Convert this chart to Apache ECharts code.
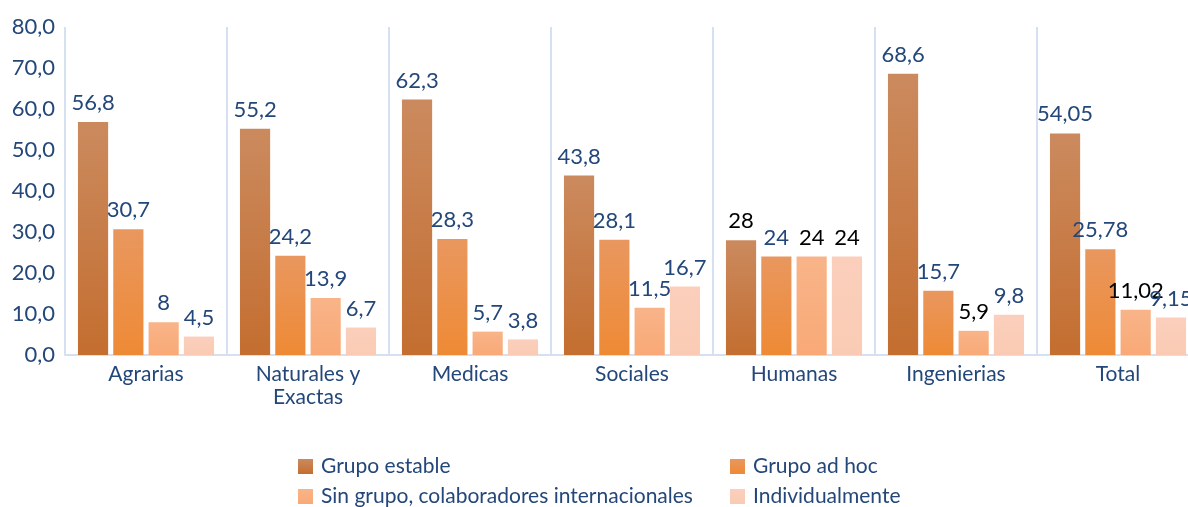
<!DOCTYPE html>
<html>
<head>
<meta charset="utf-8">
<script src="https://cdn.jsdelivr.net/npm/echarts@6/dist/echarts.min.js"></script>
<style>
  html, body { margin: 0; padding: 0; background: #fff; }
  #chart { width: 1188px; height: 507px; }
</style>
</head>
<body>
<div id="chart"></div>
<script>
// datos del gráfico
var categories = ['Agrarias', 'Naturales y\nExactas', 'Medicas', 'Sociales', 'Humanas', 'Ingenierias', 'Total'];
var grupoEstable = [56.8, 55.2, 62.3, 43.8, 28, 68.6, 54.05];
var grupoAdHoc = [30.7, 24.2, 28.3, 28.1, 24, 15.7, 25.78];
var sinGrupo = [8, 13.9, 5.7, 11.5, 24, 5.9, 11.02];
var individualmente = [4.5, 6.7, 3.8, 16.7, 24, 9.8, 9.15];
var yTicks = [0, 10, 20, 30, 40, 50, 60, 70, 80];

var blue = '#24477A';
var font = 'Lato, "Open Sans", sans-serif';

// etiquetas en negro (serie, categoría) como en el original
var blackLabels = { '0-4': 1, '2-4': 1, '3-4': 1, '2-5': 1, '2-6': 1 };

function grad(top, bottom) {
  return new echarts.graphic.LinearGradient(0, 0, 0, 1, [
    { offset: 0, color: top },
    { offset: 1, color: bottom }
  ]);
}

var seriesDefs = [
  { name: 'Grupo estable', data: grupoEstable, color: grad('#CB8A5E', '#C46E30'), legend: '#C47A45' },
  { name: 'Grupo ad hoc', data: grupoAdHoc, color: grad('#E9975F', '#EE8A35'), legend: '#EC8D42' },
  { name: 'Sin grupo, colaboradores internacionales', data: sinGrupo, color: grad('#F8B489', '#F9A976'), legend: '#F8AE7F' },
  { name: 'Individualmente', data: individualmente, color: grad('#FBCFBC', '#FACBB4'), legend: '#FACDB8' }
];

// posición de cada entrada de la leyenda (2 columnas x 2 filas)
var legendPos = [[298, 456], [730, 456], [298, 486], [730, 486]];

var chart = echarts.init(document.getElementById('chart'));

var series = seriesDefs.map(function (s, si) {
  return {
    name: s.name,
    type: 'bar',
    color: s.legend,
    barGap: '17%',
    barCategoryGap: '16%',
    itemStyle: { color: s.color },
    data: s.data.map(function (v, ci) {
      return {
        value: v,
        label: { color: blackLabels[si + '-' + ci] ? '#000' : blue }
      };
    }),
    label: {
      show: true,
      position: 'top',
      distance: 8,
      fontFamily: font,
      fontSize: 22,
      formatter: function (p) { return String(p.value).replace('.', ','); }
    }
  };
});

var legends = seriesDefs.map(function (s, i) {
  return {
    data: [s.name],
    left: legendPos[i][0],
    top: legendPos[i][1],
    padding: 0,
    itemWidth: 15, itemHeight: 15,
    icon: 'rect',
    textStyle: { color: blue, fontSize: 21, fontFamily: font, padding: [0, 0, 0, 3] }
  };
});

chart.setOption({
  animation: false,
  textStyle: { fontFamily: font },
  grid: { left: 65, right: -11, top: 27, bottom: 152, outerBoundsMode: 'none' },
  legend: legends,
  xAxis: {
    type: 'category',
    data: categories,
    axisLine: { lineStyle: { color: '#D5E0F0', width: 2 } },
    axisTick: { show: false },
    splitLine: { show: true, lineStyle: { color: '#D5E0F0', width: 2 } },
    axisLabel: { color: blue, fontSize: 21, fontFamily: font, margin: 8, lineHeight: 23 }
  },
  yAxis: {
    type: 'value',
    min: yTicks[0],
    max: yTicks[yTicks.length - 1],
    interval: yTicks[1] - yTicks[0],
    splitLine: { show: false },
    axisLine: { show: false },
    axisTick: { show: false },
    axisLabel: {
      color: blue, fontSize: 22, fontFamily: font, margin: 10,
      formatter: function (v) { return v.toFixed(1).replace('.', ','); }
    }
  },
  series: series
});
</script>
</body>
</html>
